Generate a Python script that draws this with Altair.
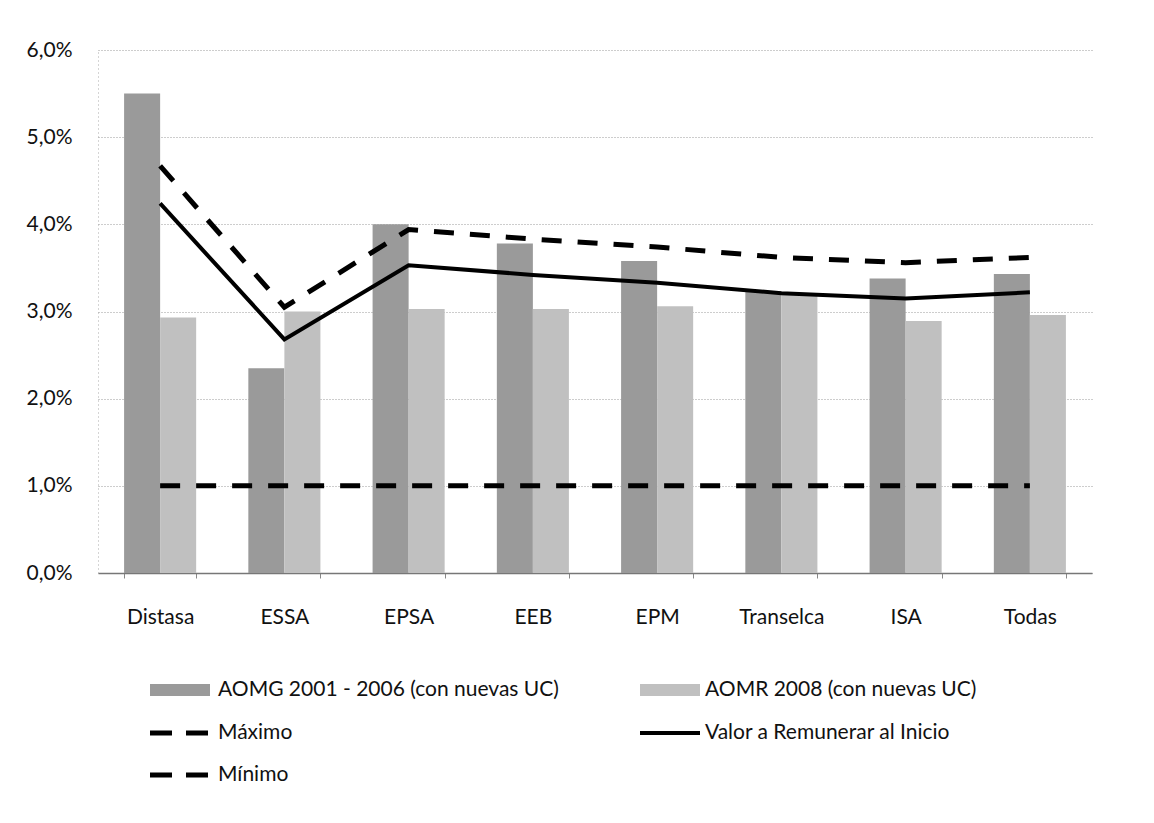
import altair as alt
import pandas as pd

cats = ["Distasa", "ESSA", "EPSA", "EEB", "EPM", "Transelca", "ISA", "Todas"]
aomg = [5.50, 2.35, 4.00, 3.78, 3.58, 3.23, 3.38, 3.43]
aomr = [2.93, 3.00, 3.03, 3.03, 3.06, 3.20, 2.89, 2.96]
maximo = [4.67, 3.05, 3.94, 3.83, 3.74, 3.62, 3.56, 3.62]
valor = [4.24, 2.68, 3.53, 3.42, 3.33, 3.21, 3.15, 3.22]
minimo = [1.0, 1.0, 1.0, 1.0, 1.0, 1.0, 1.0, 1.0]
y_ticks = [0, 1, 2, 3, 4, 5, 6]

bar_names = ["AOMG 2001 -  2006 (con nuevas UC)", "AOMR 2008 (con nuevas UC)"]
bar_colors = ["#9a9a9a", "#c0c0c0"]
line_names = ["Máximo", "Valor a Remunerar al Inicio", "Mínimo"]

FONT = "Lato"
W, H = 994, 523

bars_df = pd.DataFrame(
    [{"cat": c, "serie": bar_names[0], "v": v} for c, v in zip(cats, aomg)]
    + [{"cat": c, "serie": bar_names[1], "v": v} for c, v in zip(cats, aomr)]
)
max_df = pd.DataFrame({"cat": cats, "v": maximo})
val_df = pd.DataFrame({"cat": cats, "v": valor})
min_df = pd.DataFrame({"cat": cats, "v": minimo})

x_enc = alt.X(
    "cat:N",
    sort=cats,
    title=None,
    scale=alt.Scale(paddingInner=0.42, paddingOuter=0.21),
    axis=alt.Axis(
        labelAngle=0,
        labelFontSize=21,
        labelFont=FONT,
        labelColor="#111",
        labelPadding=28,
        tickBand="extent",
        tickSize=5,
        tickColor="#888",
        domainColor="#777",
        domainWidth=1.5,
        grid=False,
    ),
)
y_enc = alt.Y(
    "v:Q",
    title=None,
    scale=alt.Scale(domain=[0, 6], nice=False),
    axis=alt.Axis(
        values=y_ticks,
        labelExpr="replace(format(datum.value, '.1f'), '.', ',') + '%'",
        labelFontSize=21,
        labelFont=FONT,
        labelColor="#111",
        labelPadding=26,
        ticks=False,
        domain=True,
        domainDash=[1, 3],
        domainColor="#aaa",
        grid=True,
        gridColor="#9a9a9a",
        gridDash=[1, 2],
        gridWidth=1,
    ),
)

bars = alt.Chart(bars_df).mark_bar().encode(
    x=x_enc,
    xOffset=alt.XOffset("serie:N", sort=bar_names, scale=alt.Scale(paddingInner=0, paddingOuter=0)),
    y=y_enc,
    color=alt.Color("serie:N", scale=alt.Scale(domain=bar_names, range=bar_colors), legend=None),
)

line_max = alt.Chart(max_df).mark_line(color="black", strokeWidth=5, strokeDash=[20, 16]).encode(
    x=alt.X("cat:N", sort=cats), y="v:Q"
)
line_val = alt.Chart(val_df).mark_line(color="black", strokeWidth=4).encode(
    x=alt.X("cat:N", sort=cats), y="v:Q"
)
line_min = alt.Chart(min_df).mark_line(color="black", strokeWidth=5, strokeDash=[20, 16]).encode(
    x=alt.X("cat:N", sort=cats), y="v:Q"
)

# manual legend (positions computed relative to the plot area)
row_y = [H + 117, H + 160, H + 202]
col_sym = [(52, 112), (542, 602)]
col_txt = [120, 607]
one = pd.DataFrame({"k": [0]})

legend_layers = []


def leg_text(label, col, row):
    return alt.Chart(pd.DataFrame({"t": [label]})).mark_text(
        align="left", baseline="middle", font=FONT, fontSize=21, color="#111"
    ).encode(x=alt.value(col_txt[col]), y=alt.value(row_y[row]), text="t:N")


def leg_rect(color, col, row):
    x0, x1 = col_sym[col]
    return alt.Chart(one).mark_rect(color=color).encode(
        x=alt.value(x0), x2=alt.value(x1), y=alt.value(row_y[row] - 6), y2=alt.value(row_y[row] + 6)
    )


def leg_line(dash, width, col, row):
    x0, x1 = col_sym[col]
    kw = {"strokeDash": dash} if dash else {}
    return alt.Chart(one).mark_rule(color="black", strokeWidth=width, **kw).encode(
        x=alt.value(x0), x2=alt.value(x1), y=alt.value(row_y[row])
    )


legend_layers += [
    leg_rect(bar_colors[0], 0, 0), leg_text(bar_names[0], 0, 0),
    leg_rect(bar_colors[1], 1, 0), leg_text(bar_names[1], 1, 0),
    leg_line([22, 14], 5, 0, 1), leg_text(line_names[0], 0, 1),
    leg_line(None, 4, 1, 1), leg_text(line_names[1], 1, 1),
    leg_line([22, 14], 5, 0, 2), leg_text(line_names[2], 0, 2),
]

chart = alt.layer(bars, line_min, line_max, line_val, *legend_layers).properties(
    width=W,
    height=H,
    background="white",
    autosize=alt.AutoSizeParams(type="none"),
    padding={"left": 90, "top": 42, "right": 40, "bottom": 240},
    view=alt.ViewBackground(strokeWidth=0, strokeOpacity=0),
)

chart.save("out.html", embed_options={"renderer": "svg", "actions": False})
